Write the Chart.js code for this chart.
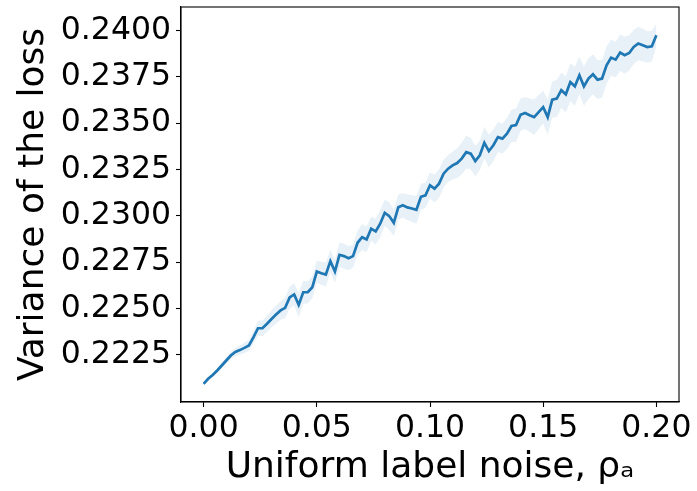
<!DOCTYPE html>
<html><head><meta charset="utf-8">
<script src="https://cdn.jsdelivr.net/npm/chart.js@4.4.1/dist/chart.umd.min.js"></script>
<style>html,body{margin:0;padding:0;background:#fff}#wrap{width:697px;height:491px}</style>
</head><body><div id="wrap"><canvas id="c" width="697" height="491"></canvas></div>
<script>
const noiseLevels = [
0.000,0.002,0.004,0.006,0.008,0.010,0.012,0.014,0.016,0.018,
0.020,0.022,0.024,0.026,0.028,0.030,0.032,0.034,0.036,0.038,
0.040,0.042,0.044,0.046,0.048,0.050,0.052,0.054,0.056,0.058,
0.060,0.062,0.064,0.066,0.068,0.070,0.072,0.074,0.076,0.078,
0.080,0.082,0.084,0.086,0.088,0.090,0.092,0.094,0.096,0.098,
0.100,0.102,0.104,0.106,0.108,0.110,0.112,0.114,0.116,0.118,
0.120,0.122,0.124,0.126,0.128,0.130,0.132,0.134,0.136,0.138,
0.140,0.142,0.144,0.146,0.148,0.150,0.152,0.154,0.156,0.158,
0.160,0.162,0.164,0.166,0.168,0.170,0.172,0.174,0.176,0.178,
0.180,0.182,0.184,0.186,0.188,0.190,0.192,0.194,0.196,0.198,
0.200];
const meanVariance = [
0.22094,0.22121,0.22142,0.22166,0.22193,0.22220,0.22247,0.22266,0.22276,0.22288,
0.22301,0.22345,0.22394,0.22394,0.22418,0.22444,0.22468,0.22490,0.22504,0.22560,
0.22576,0.22520,0.22588,0.22588,0.22615,0.22700,0.22691,0.22684,0.22756,0.22700,
0.22790,0.22783,0.22772,0.22783,0.22855,0.22885,0.22873,0.22931,0.22916,0.22958,
0.23017,0.22999,0.22963,0.23047,0.23057,0.23046,0.23040,0.23033,0.23103,0.23111,
0.23165,0.23147,0.23174,0.23228,0.23255,0.23273,0.23285,0.23309,0.23344,0.23336,
0.23296,0.23327,0.23395,0.23350,0.23381,0.23425,0.23417,0.23444,0.23485,0.23490,
0.23546,0.23555,0.23543,0.23533,0.23560,0.23587,0.23533,0.23627,0.23633,0.23678,
0.23656,0.23722,0.23699,0.23759,0.23699,0.23741,0.23764,0.23735,0.23741,0.23813,
0.23854,0.23843,0.23881,0.23867,0.23879,0.23911,0.23930,0.23921,0.23911,0.23915,
0.23975];
const spread = [
0.00008,0.00008,0.00010,0.00012,0.00015,0.00018,0.00020,0.00023,0.00025,0.00028,
0.00030,0.00035,0.00040,0.00042,0.00045,0.00045,0.00048,0.00050,0.00055,0.00058,
0.00060,0.00065,0.00062,0.00060,0.00058,0.00060,0.00062,0.00065,0.00060,0.00062,
0.00065,0.00068,0.00065,0.00062,0.00065,0.00070,0.00068,0.00065,0.00070,0.00072,
0.00070,0.00075,0.00072,0.00068,0.00065,0.00070,0.00072,0.00075,0.00070,0.00068,
0.00070,0.00075,0.00078,0.00075,0.00072,0.00075,0.00080,0.00085,0.00088,0.00085,
0.00082,0.00080,0.00085,0.00088,0.00085,0.00082,0.00080,0.00085,0.00088,0.00090,
0.00088,0.00085,0.00090,0.00095,0.00092,0.00088,0.00095,0.00098,0.00100,0.00095,
0.00098,0.00102,0.00105,0.00100,0.00105,0.00110,0.00108,0.00105,0.00102,0.00100,
0.00098,0.00095,0.00098,0.00100,0.00095,0.00092,0.00090,0.00088,0.00085,0.00082,
0.00060];
const xTickValues = [0.00,0.05,0.10,0.15,0.20];
const xTickLabels = ['0.00','0.05','0.10','0.15','0.20'];
const yTickValues = [0.2225,0.2250,0.2275,0.2300,0.2325,0.2350,0.2375,0.2400];
const yTickLabels = ['0.2225','0.2250','0.2275','0.2300','0.2325','0.2350','0.2375','0.2400'];
const xTitle = 'Uniform label noise, ρₐ';
const yTitle = 'Variance of the loss';

const FONT = "'DejaVu Sans', sans-serif";
const lineColor = '#1f77b4';
const bandColor = 'rgba(31,119,180,0.1)';

const meanPts = noiseLevels.map((x, i) => ({x: x, y: meanVariance[i]}));
const lowPts = noiseLevels.map((x, i) => ({x: x, y: meanVariance[i] - spread[i]}));
const highPts = noiseLevels.map((x, i) => ({x: x, y: meanVariance[i] + spread[i]}));

const framePlugin = {
  id: 'frame',
  afterDraw(chart) {
    const a = chart.chartArea, c = chart.ctx;
    c.save();
    c.strokeStyle = '#000';
    c.lineWidth = 1.1;
    c.strokeRect(a.left, a.top, a.right - a.left, a.bottom - a.top);
    c.restore();
  }
};

new Chart(document.getElementById('c'), {
  type: 'line',
  data: {
    datasets: [
      {label: 'mean', data: meanPts, borderColor: lineColor, borderWidth: 2.7, pointRadius: 0, tension: 0, fill: false},
      {label: 'low', data: lowPts, borderColor: 'rgba(0,0,0,0)', borderWidth: 0, pointRadius: 0, tension: 0, fill: false},
      {label: 'high', data: highPts, borderColor: 'rgba(0,0,0,0)', borderWidth: 0, pointRadius: 0, tension: 0, fill: '-1', backgroundColor: bandColor}
    ]
  },
  options: {
    responsive: false,
    animation: false,
    events: [],
    layout: {padding: {top: 7, right: 18, left: 0, bottom: 0}},
    plugins: {legend: {display: false}, tooltip: {enabled: false}},
    scales: {
      x: {
        type: 'linear', min: -0.01, max: 0.21,
        afterBuildTicks: s => { s.ticks = xTickValues.map(v => ({value: v})); },
        ticks: {
          callback: (v) => xTickLabels[xTickValues.indexOf(v)],
          font: {family: FONT, size: 31.5}, color: '#000', padding: 3, maxRotation: 0, autoSkip: false
        },
        grid: {display: true, drawOnChartArea: false, tickLength: 5, tickWidth: 1.1, tickColor: '#000'},
        border: {display: true, color: '#000', width: 1.1},
        title: {display: true, text: xTitle, font: {family: FONT, size: 36}, color: '#000', padding: {top: 0, bottom: 2}},
        afterFit: s => { s.height = 89; s.paddingLeft = 0; s.paddingRight = 0; }
      },
      y: {
        type: 'linear', min: 0.21996, max: 0.24127,
        afterBuildTicks: s => { s.ticks = yTickValues.map(v => ({value: v})); },
        ticks: {
          callback: (v) => yTickLabels[yTickValues.indexOf(v)],
          font: {family: FONT, size: 31.5}, color: '#000', padding: 5, autoSkip: false
        },
        grid: {display: true, drawOnChartArea: false, tickLength: 5, tickWidth: 1.1, tickColor: '#000'},
        border: {display: true, color: '#000', width: 1.1},
        title: {display: true, text: yTitle, font: {family: FONT, size: 36}, color: '#000', padding: {top: 12, bottom: 0}},
        afterFit: s => { s.width = 181; s.paddingTop = 0; s.paddingBottom = 0; }
      }
    }
  },
  plugins: [framePlugin]
});
</script>
</body></html>
